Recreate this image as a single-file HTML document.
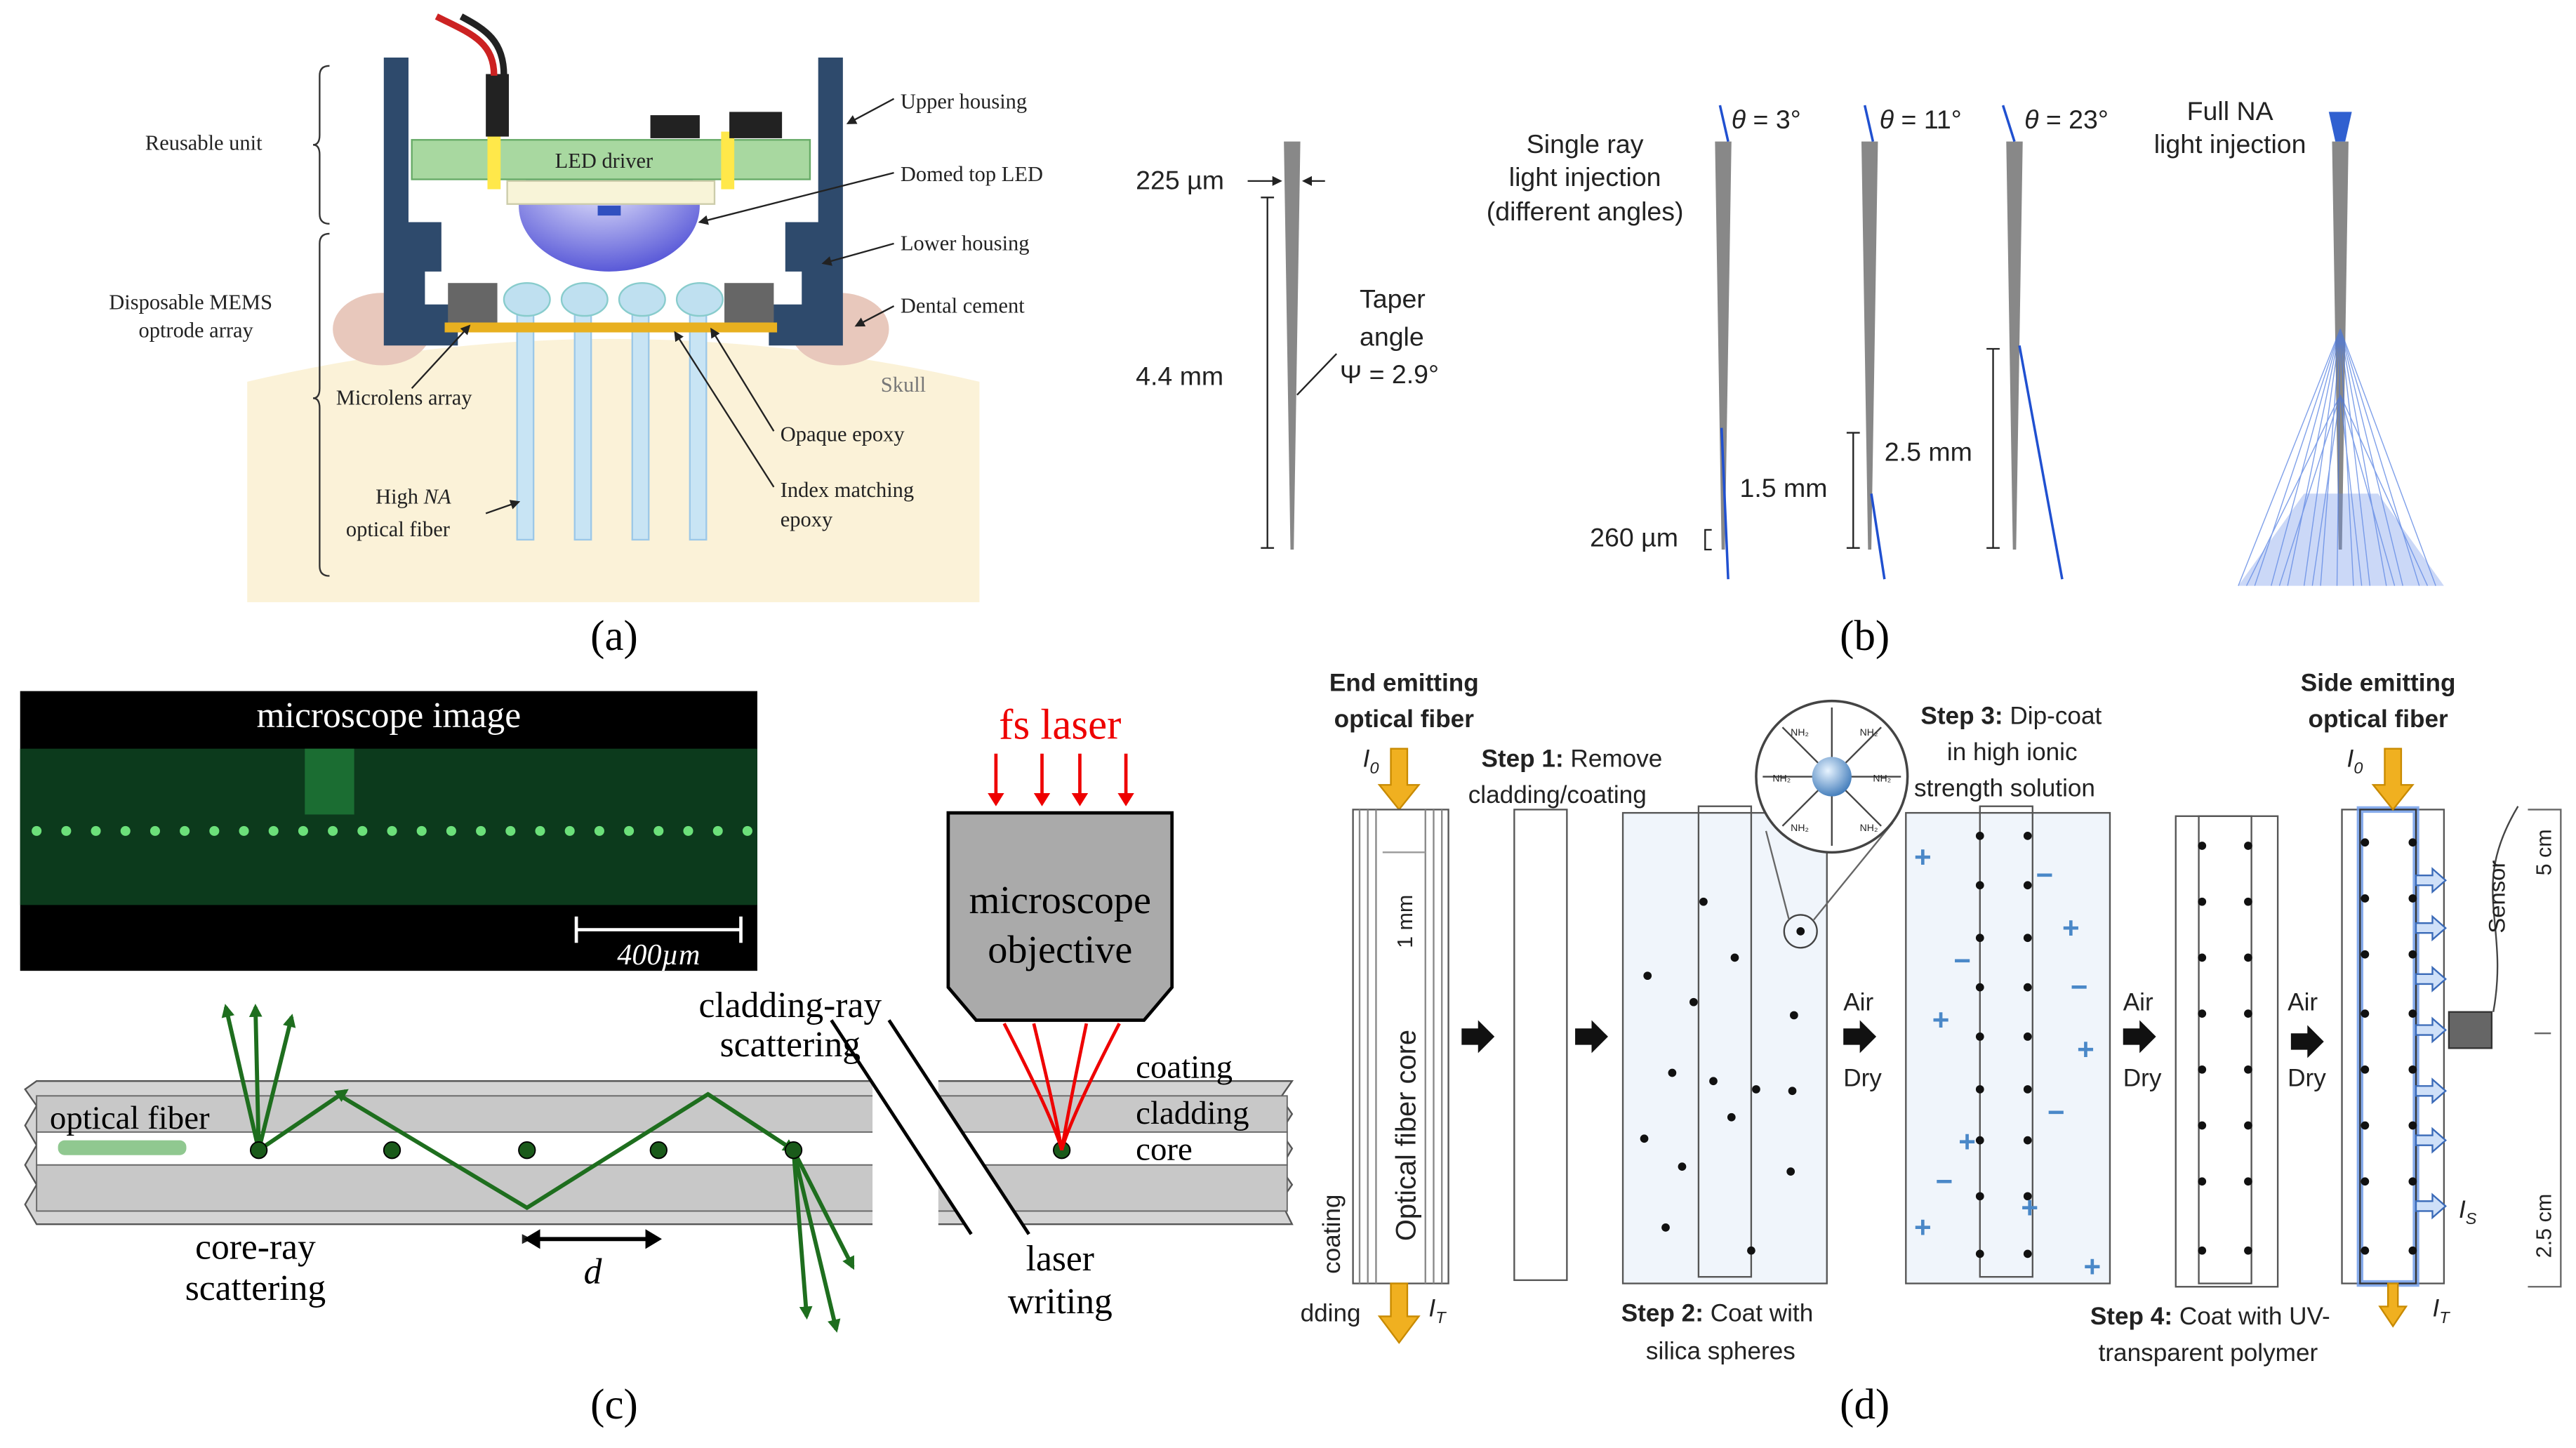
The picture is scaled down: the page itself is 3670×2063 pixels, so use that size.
<!DOCTYPE html>
<html><head><meta charset="utf-8"><style>html,body{margin:0;padding:0;background:#fff}svg{display:block}</style></head><body>
<svg width="3670" height="2063" viewBox="0 0 1565 880" xmlns="http://www.w3.org/2000/svg" font-family="Liberation Sans, sans-serif">
<rect width="1565" height="880" fill="#fff"/>
<defs>
<marker id="ag" markerWidth="8" markerHeight="8" refX="6" refY="4" orient="auto" markerUnits="userSpaceOnUse"><path d="M0,0 L8,4 L0,8 z" fill="#1e6e1e"/></marker>
<marker id="ar" markerWidth="8" markerHeight="10" refX="6" refY="5" orient="auto" markerUnits="userSpaceOnUse"><path d="M0,0 L8,5 L0,10 z" fill="#e00"/></marker>
<marker id="ak" markerWidth="6" markerHeight="6" refX="5" refY="3" orient="auto" markerUnits="userSpaceOnUse"><path d="M0,0 L6,3 L0,6 z" fill="#222"/></marker>
<radialGradient id="dome" cx="0.45" cy="0.3" r="0.7"><stop offset="0" stop-color="#f0f0ff"/><stop offset="1" stop-color="#5a5ad8"/></radialGradient>
<radialGradient id="sph" cx="0.4" cy="0.35" r="0.7"><stop offset="0" stop-color="#e8f4ff"/><stop offset="1" stop-color="#3c78b8"/></radialGradient>
</defs>

<!-- ===== Panel (a) ===== -->
<g font-family="Liberation Serif, serif" font-size="13" fill="#222">
<rect x="150" y="10" width="445" height="356" fill="#fff"/>
<path d="M150,232 Q370,180 595,232 L595,366 L150,366 Z" fill="#fbf2d8"/>
<ellipse cx="232" cy="200" rx="30" ry="22" fill="#e8c8bc"/>
<ellipse cx="510" cy="200" rx="30" ry="22" fill="#e8c8bc"/>
<g fill="#c8e4f4" stroke="#9cc8e8"><rect x="314" y="180" width="10" height="148"/><rect x="349" y="180" width="10" height="148"/><rect x="384" y="180" width="10" height="148"/><rect x="419" y="180" width="10" height="148"/></g>
<path d="M233,35 h15 v100 h20 v30 h-10 v20 h20 v25 h-45 z" fill="#2e4a6c"/>
<path d="M512,35 h-15 v100 h-20 v30 h10 v20 h-20 v25 h45 z" fill="#2e4a6c"/>
<rect x="272" y="172" width="30" height="24" fill="#666"/>
<rect x="440" y="172" width="30" height="24" fill="#666"/>
<rect x="270" y="196" width="202" height="6" fill="#e8b020"/>
<ellipse cx="370" cy="125" rx="55" ry="40" fill="url(#dome)"/>
<rect x="308" y="110" width="126" height="14" fill="#f8f4d8" stroke="#cca"/>
<rect x="250" y="85" width="242" height="24" fill="#a8d8a0" stroke="#6a6"/>
<rect x="296" y="80" width="8" height="35" fill="#ffe84a"/><rect x="438" y="80" width="8" height="35" fill="#ffe84a"/>
<rect x="395" y="70" width="30" height="14" fill="#222"/><rect x="443" y="68" width="32" height="16" fill="#222"/>
<rect x="295" y="45" width="14" height="38" fill="#222"/>
<path d="M300,46 C300,25 285,20 265,10" stroke="#c22" stroke-width="4" fill="none"/>
<path d="M306,46 C306,25 295,18 280,10" stroke="#222" stroke-width="4" fill="none"/>
<g fill="#bfe0f0" stroke="#8cc"><ellipse cx="320" cy="182" rx="14" ry="10"/><ellipse cx="355" cy="182" rx="14" ry="10"/><ellipse cx="390" cy="182" rx="14" ry="10"/><ellipse cx="425" cy="182" rx="14" ry="10"/></g>
<rect x="363" y="125" width="14" height="6" fill="#3050c0"/>
<text x="337" y="102" font-size="13">LED driver</text>
<path d="M200,40 q-6,0 -6,6 v36 q0,6 -4,6 q4,0 4,6 v36 q0,6 6,6" fill="none" stroke="#333"/>
<path d="M200,142 q-6,0 -6,6 v88 q0,6 -4,6 q4,0 4,6 v96 q0,6 6,6" fill="none" stroke="#333"/>
<text x="88" y="91">Reusable unit</text>
<text x="66" y="188">Disposable MEMS</text>
<text x="84" y="205">optrode array</text>
<text x="547" y="66">Upper housing</text>
<text x="547" y="110">Domed top LED</text>
<text x="547" y="152">Lower housing</text>
<text x="547" y="190">Dental cement</text>
<text x="535" y="238" fill="#777">Skull</text>
<text x="204" y="246">Microlens array</text>
<text x="474" y="268">Opaque epoxy</text>
<text x="474" y="302">Index matching</text>
<text x="474" y="320">epoxy</text>
<text x="228" y="306">High <tspan font-style="italic">NA</tspan></text>
<text x="210" y="326">optical fiber</text>
<g stroke="#222" fill="none" marker-end="url(#ak)">
<line x1="543" y1="60" x2="515" y2="75"/><line x1="543" y1="105" x2="425" y2="135"/><line x1="543" y1="148" x2="500" y2="160"/><line x1="543" y1="186" x2="520" y2="198"/>
<line x1="250" y1="236" x2="285" y2="198"/><line x1="470" y1="262" x2="432" y2="200"/><line x1="470" y1="296" x2="410" y2="202"/><line x1="295" y1="312" x2="315" y2="305"/>
</g>
</g>
<text x="373" y="395" font-family="Liberation Serif, serif" font-size="26" text-anchor="middle">(a)</text>

<!-- ===== Panel (b) ===== -->
<g font-size="16" fill="#222">
<path d="M780,86 h10 l-4,248 h-2 z" fill="#888"/>
<text x="690" y="115">225 µm</text>
<line x1="758" y1="110" x2="778" y2="110" stroke="#222" marker-end="url(#ak)"/><line x1="805" y1="110" x2="792" y2="110" stroke="#222" marker-end="url(#ak)"/>
<line x1="770" y1="120" x2="770" y2="333" stroke="#222"/><line x1="766" y1="120" x2="774" y2="120" stroke="#222"/><line x1="766" y1="333" x2="774" y2="333" stroke="#222"/>
<text x="690" y="234">4.4 mm</text>
<text x="826" y="187">Taper</text><text x="826" y="210">angle</text><text x="814" y="233">Ψ = 2.9°</text>
<line x1="812" y1="215" x2="788" y2="240" stroke="#222"/>
<text x="963" y="93" text-anchor="middle">Single ray</text>
<text x="963" y="113" text-anchor="middle">light injection</text>
<text x="963" y="114" dy="20" text-anchor="middle">(different angles)</text>
<g fill="#888"><path d="M1042,86 h10 l-4,248 h-2 z"/><path d="M1131,86 h10 l-4,248 h-2 z"/><path d="M1219,86 h10 l-4,248 h-2 z"/><path d="M1417,86 h10 l-4,248 h-2 z"/></g>
<g stroke="#2050d0" stroke-width="1.5"><line x1="1045" y1="64" x2="1050" y2="86"/><line x1="1046" y1="260" x2="1050" y2="352"/><line x1="1133" y1="64" x2="1138" y2="86"/><line x1="1137" y1="300" x2="1145" y2="352"/><line x1="1217" y1="64" x2="1224" y2="86"/><line x1="1227" y1="210" x2="1253" y2="352"/></g>
<text x="1052" y="78"><tspan font-style="italic">θ</tspan> = 3°</text>
<text x="1142" y="78"><tspan font-style="italic">θ</tspan> = 11°</text>
<text x="1230" y="78"><tspan font-style="italic">θ</tspan> = 23°</text>
<text x="966" y="332">260 µm</text>
<path d="M1040,322 h-4 v12 h4" fill="none" stroke="#222"/>
<text x="1057" y="302">1.5 mm</text>
<path d="M1122,263 h8 M1126,263 v70 M1122,333 h8" stroke="#222" fill="none"/>
<text x="1145" y="280">2.5 mm</text>
<path d="M1207,212 h8 M1211,212 v121 M1207,333 h8" stroke="#222" fill="none"/>
<text x="1355" y="73" text-anchor="middle">Full  NA</text>
<text x="1355" y="93" text-anchor="middle">light injection</text>
<path d="M1415,68 h14 l-4,18 h-6 z" fill="#3060d0"/>
<g stroke="#4a78e0" stroke-width="0.6" opacity="0.7">
<line x1="1422" y1="200" x2="1360" y2="356"/><line x1="1422" y1="200" x2="1370" y2="356"/><line x1="1422" y1="200" x2="1380" y2="356"/><line x1="1422" y1="200" x2="1390" y2="356"/><line x1="1422" y1="200" x2="1400" y2="356"/><line x1="1422" y1="200" x2="1410" y2="356"/><line x1="1422" y1="200" x2="1420" y2="356"/><line x1="1422" y1="200" x2="1430" y2="356"/><line x1="1422" y1="200" x2="1440" y2="356"/><line x1="1422" y1="200" x2="1450" y2="356"/><line x1="1422" y1="200" x2="1460" y2="356"/><line x1="1422" y1="200" x2="1470" y2="356"/><line x1="1422" y1="200" x2="1480" y2="356"/>
<line x1="1422" y1="240" x2="1365" y2="356"/><line x1="1422" y1="240" x2="1385" y2="356"/><line x1="1422" y1="240" x2="1405" y2="356"/><line x1="1422" y1="240" x2="1435" y2="356"/><line x1="1422" y1="240" x2="1455" y2="356"/><line x1="1422" y1="240" x2="1475" y2="356"/>
</g>
<path d="M1400,300 L1360,356 L1485,356 L1445,300 Z" fill="#6a90e8" opacity="0.35"/>
</g>
<text x="1133" y="395" font-family="Liberation Serif, serif" font-size="26" text-anchor="middle">(b)</text>

<!-- ===== Panel (c) ===== -->
<g font-family="Liberation Serif, serif">
<rect x="12" y="420" width="448" height="170" fill="#000"/>
<rect x="12" y="455" width="448" height="95" fill="#0c3a1c"/>
<rect x="185" y="455" width="30" height="40" fill="#1f7a38" opacity="0.8"/>
<g fill="#6ce07a">
<circle cx="22" cy="505" r="3"/><circle cx="40" cy="505" r="3"/><circle cx="58" cy="505" r="3"/><circle cx="76" cy="505" r="3"/><circle cx="94" cy="505" r="3"/><circle cx="112" cy="505" r="3"/><circle cx="130" cy="505" r="3"/><circle cx="148" cy="505" r="3"/><circle cx="166" cy="505" r="3"/><circle cx="184" cy="505" r="3"/><circle cx="202" cy="505" r="3"/><circle cx="220" cy="505" r="3"/><circle cx="238" cy="505" r="3"/><circle cx="256" cy="505" r="3"/><circle cx="274" cy="505" r="3"/><circle cx="292" cy="505" r="3"/><circle cx="310" cy="505" r="3"/><circle cx="328" cy="505" r="3"/><circle cx="346" cy="505" r="3"/><circle cx="364" cy="505" r="3"/><circle cx="382" cy="505" r="3"/><circle cx="400" cy="505" r="3"/><circle cx="418" cy="505" r="3"/><circle cx="436" cy="505" r="3"/><circle cx="454" cy="505" r="3"/>
</g>
<text x="236" y="442" fill="#fff" font-size="22" text-anchor="middle">microscope image</text>
<line x1="350" y1="565" x2="450" y2="565" stroke="#fff" stroke-width="2"/><line x1="350" y1="557" x2="350" y2="573" stroke="#fff" stroke-width="2"/><line x1="450" y1="557" x2="450" y2="573" stroke="#fff" stroke-width="2"/>
<text x="400" y="586" fill="#fff" font-size="18" text-anchor="middle" font-style="italic">400µm</text>
<!-- fiber -->
<path d="M22,657 L785,657 L778,667 L785,677 L778,688 L785,698 L778,710 L785,720 L778,730 L785,744 L22,744 L15,732 L22,720 L15,708 L22,696 L15,684 L22,672 L15,662 Z" fill="#d4d4d4" stroke="#555"/>
<rect x="22" y="666" width="760" height="22" fill="#c8c8c8" stroke="#666" stroke-width="0.8"/>
<rect x="22" y="688" width="760" height="20" fill="#fff" stroke="#666" stroke-width="0.8"/>
<rect x="22" y="708" width="760" height="28" fill="#c8c8c8" stroke="#666" stroke-width="0.8"/>
<rect x="530" y="640" width="40" height="115" fill="#fff" transform="skewX(0)"/>
<line x1="505" y1="620" x2="590" y2="750" stroke="#000" stroke-width="2"/>
<line x1="540" y1="620" x2="625" y2="750" stroke="#000" stroke-width="2"/>
<path d="M505,620 L540,620 L625,750 L590,750 Z" fill="#fff"/>
<line x1="505" y1="620" x2="590" y2="750" stroke="#000" stroke-width="2"/>
<line x1="540" y1="620" x2="625" y2="750" stroke="#000" stroke-width="2"/>
<rect x="35" y="693" width="78" height="9" rx="4" fill="#90c890"/>
<g stroke="#1e6e1e" stroke-width="2.5" fill="none">
<polyline points="157,699 210,663" marker-end="url(#ag)"/>
<polyline points="205,665 320,734 430,665 482,699"/>
<line x1="157" y1="699" x2="137" y2="612" marker-end="url(#ag)"/><line x1="157" y1="699" x2="155" y2="612" marker-end="url(#ag)"/><line x1="157" y1="699" x2="177" y2="618" marker-end="url(#ag)"/>
<line x1="482" y1="699" x2="490" y2="800" marker-end="url(#ag)"/><line x1="482" y1="699" x2="508" y2="808" marker-end="url(#ag)"/><line x1="482" y1="699" x2="518" y2="770" marker-end="url(#ag)"/>
</g>
<line x1="430" y1="665" x2="482" y2="699" stroke="#1e6e1e" stroke-width="2.5" marker-end="url(#ag)"/>
<g fill="#1a5a1a" stroke="#000" stroke-width="0.8"><circle cx="157" cy="699" r="5"/><circle cx="238" cy="699" r="5"/><circle cx="320" cy="699" r="5"/><circle cx="400" cy="699" r="5"/><circle cx="482" cy="699" r="5"/><circle cx="645" cy="699" r="5"/></g>
<text x="30" y="686" font-size="20">optical fiber</text>
<text x="690" y="655" font-size="20">coating</text>
<text x="690" y="683" font-size="20">cladding</text>
<text x="690" y="705" font-size="20">core</text>
<text x="155" y="765" font-size="22" text-anchor="middle">core-ray</text>
<text x="155" y="790" font-size="22" text-anchor="middle">scattering</text>
<line x1="322" y1="753" x2="398" y2="753" stroke="#000" stroke-width="2.5" marker-end="url(#ak)" marker-start="url(#ak)"/>
<path d="M318,753 l10,-6 v12 z M402,753 l-10,-6 v12 z" fill="#000"/>
<text x="360" y="780" font-size="22" font-style="italic" text-anchor="middle">d</text>
<text x="480" y="618" font-size="22" text-anchor="middle">cladding-ray</text>
<text x="480" y="642" font-size="22" text-anchor="middle">scattering</text>
<text x="644" y="772" font-size="22" text-anchor="middle">laser</text>
<text x="644" y="798" font-size="22" text-anchor="middle">writing</text>
<text x="644" y="449" font-size="26" fill="#e00" text-anchor="middle">fs laser</text>
<g stroke="#e00" stroke-width="2"><line x1="605" y1="458" x2="605" y2="488" marker-end="url(#ar)"/><line x1="633" y1="458" x2="633" y2="488" marker-end="url(#ar)"/><line x1="656" y1="458" x2="656" y2="488" marker-end="url(#ar)"/><line x1="684" y1="458" x2="684" y2="488" marker-end="url(#ar)"/></g>
<path d="M576,494 L712,494 L712,600 L695,620 L593,620 L576,600 Z" fill="#aaa" stroke="#000" stroke-width="2"/>
<text x="644" y="555" font-size="24" text-anchor="middle">microscope</text>
<text x="644" y="585" font-size="24" text-anchor="middle">objective</text>
<g stroke="#e00" stroke-width="2" fill="none"><path d="M610,622 Q640,680 645,699"/><path d="M628,622 Q642,680 645,699"/><path d="M660,622 Q648,680 645,699"/><path d="M680,622 Q650,680 645,699"/></g>
</g>
<text x="373" y="862" font-family="Liberation Serif, serif" font-size="26" text-anchor="middle">(c)</text>

<!-- ===== Panel (d) ===== -->
<g font-size="15" fill="#222" font-family="Liberation Sans, sans-serif">
<text x="853" y="420" font-weight="bold" text-anchor="middle">End emitting</text>
<text x="853" y="442" font-weight="bold" text-anchor="middle">optical fiber</text>
<text x="828" y="466" font-style="italic">I<tspan font-size="10" dy="4">0</tspan></text>
<path d="M845,455 h10 v22 h7 l-12,15 l-12,-15 h7 z" fill="#f0b020" stroke="#c88a00"/>
<rect x="822" y="492" width="58" height="288" fill="#fff" stroke="#555"/>
<g stroke="#888" fill="none"><line x1="826" y1="492" x2="826" y2="780"/><line x1="831" y1="492" x2="831" y2="780"/><line x1="836" y1="492" x2="836" y2="780"/><line x1="866" y1="492" x2="866" y2="780"/><line x1="871" y1="492" x2="871" y2="780"/><line x1="876" y1="492" x2="876" y2="780"/></g>
<line x1="840" y1="518" x2="866" y2="518" stroke="#999"/>
<text transform="translate(858,560) rotate(-90)" font-size="13" text-anchor="middle">1 mm</text>
<text transform="translate(860,690) rotate(-90)" font-size="17" text-anchor="middle">Optical fiber core</text>
<text transform="translate(814,750) rotate(-90)" font-size="15" text-anchor="middle">coating</text>
<text x="790" y="803">dding</text>
<path d="M845,780 h10 v20 h7 l-12,16 l-12,-16 h7 z" fill="#f0b020" stroke="#c88a00"/>
<text x="868" y="800" font-style="italic">I<tspan font-size="10" dy="4">T</tspan></text>
<path d="M888,625 h10 v-5 l10,10 l-10,10 v-5 h-10 z" fill="#111"/>
<text x="900" y="466"><tspan font-weight="bold">Step 1:</tspan> Remove</text>
<text x="892" y="488">cladding/coating</text>
<rect x="920" y="492" width="32" height="286" fill="#fff" stroke="#555"/>
<path d="M957,625 h10 v-5 l10,10 l-10,10 v-5 h-10 z" fill="#111"/>
<rect x="986" y="494" width="124" height="286" fill="#f0f5fb" stroke="#555"/>
<rect x="1032" y="490" width="32" height="286" fill="none" stroke="#555"/>
<g fill="#111"><circle cx="1035" cy="548" r="2.5"/><circle cx="1054" cy="582" r="2.5"/><circle cx="1001" cy="593" r="2.5"/><circle cx="1029" cy="609" r="2.5"/><circle cx="1090" cy="617" r="2.5"/><circle cx="1016" cy="652" r="2.5"/><circle cx="1041" cy="657" r="2.5"/><circle cx="1067" cy="662" r="2.5"/><circle cx="1089" cy="663" r="2.5"/><circle cx="1052" cy="679" r="2.5"/><circle cx="999" cy="692" r="2.5"/><circle cx="1022" cy="709" r="2.5"/><circle cx="1088" cy="712" r="2.5"/><circle cx="1012" cy="746" r="2.5"/><circle cx="1064" cy="760" r="2.5"/><circle cx="1094" cy="566" r="2.5"/></g>
<circle cx="1094" cy="566" r="10" fill="none" stroke="#444"/>
<line x1="1087" y1="559" x2="1073" y2="505" stroke="#666"/><line x1="1102" y1="559" x2="1150" y2="500" stroke="#666"/>
<circle cx="1113" cy="472" r="46" fill="#fff" stroke="#444" stroke-width="1.5"/>
<g stroke="#444"><line x1="1113" y1="472" x2="1113" y2="430"/><line x1="1113" y1="472" x2="1113" y2="514"/><line x1="1113" y1="472" x2="1071" y2="472"/><line x1="1113" y1="472" x2="1155" y2="472"/><line x1="1113" y1="472" x2="1083" y2="442"/><line x1="1113" y1="472" x2="1143" y2="442"/><line x1="1113" y1="472" x2="1083" y2="502"/><line x1="1113" y1="472" x2="1143" y2="502"/></g>
<circle cx="1113" cy="472" r="12" fill="url(#sph)"/>
<g font-size="6" fill="#222"><text x="1077" y="475">NH₂</text><text x="1138" y="475">NH₂</text><text x="1088" y="447">NH₂</text><text x="1130" y="447">NH₂</text><text x="1088" y="505">NH₂</text><text x="1130" y="505">NH₂</text></g>
<text x="985" y="803"><tspan font-weight="bold">Step 2:</tspan> Coat with</text>
<text x="1000" y="826">silica spheres</text>
<text x="1120" y="614">Air</text><text x="1120" y="660">Dry</text>
<path d="M1120,625 h10 v-5 l10,10 l-10,10 v-5 h-10 z" fill="#111"/>
<text x="1167" y="440"><tspan font-weight="bold">Step 3:</tspan> Dip-coat</text>
<text x="1183" y="462">in high ionic</text>
<text x="1163" y="484">strength solution</text>
<rect x="1158" y="494" width="124" height="286" fill="#f0f5fb" stroke="#555"/>
<rect x="1203" y="490" width="32" height="286" fill="none" stroke="#555"/>
<g fill="#111"><circle cx="1203" cy="508" r="2.5"/><circle cx="1203" cy="538" r="2.5"/><circle cx="1203" cy="570" r="2.5"/><circle cx="1203" cy="600" r="2.5"/><circle cx="1203" cy="630" r="2.5"/><circle cx="1203" cy="662" r="2.5"/><circle cx="1203" cy="693" r="2.5"/><circle cx="1203" cy="727" r="2.5"/><circle cx="1203" cy="762" r="2.5"/><circle cx="1232" cy="508" r="2.5"/><circle cx="1232" cy="538" r="2.5"/><circle cx="1232" cy="570" r="2.5"/><circle cx="1232" cy="600" r="2.5"/><circle cx="1232" cy="630" r="2.5"/><circle cx="1232" cy="662" r="2.5"/><circle cx="1232" cy="693" r="2.5"/><circle cx="1232" cy="727" r="2.5"/><circle cx="1232" cy="762" r="2.5"/></g>
<g fill="#4a88c8" font-weight="bold" font-size="18"><text x="1163" y="527">+</text><text x="1253" y="570">+</text><text x="1174" y="626">+</text><text x="1262" y="644">+</text><text x="1190" y="700">+</text><text x="1163" y="752">+</text><text x="1266" y="776">+</text><text x="1228" y="740">+</text><text x="1237" y="538">−</text><text x="1187" y="590">−</text><text x="1258" y="606">−</text><text x="1244" y="682">−</text><text x="1176" y="724">−</text></g>
<text x="1290" y="614">Air</text><text x="1290" y="660">Dry</text>
<path d="M1290,625 h10 v-5 l10,10 l-10,10 v-5 h-10 z" fill="#111"/>
<rect x="1322" y="496" width="62" height="286" fill="#fff" stroke="#555"/>
<rect x="1336" y="496" width="32" height="284" fill="none" stroke="#555"/>
<g fill="#111"><circle cx="1338" cy="514" r="2.5"/><circle cx="1338" cy="548" r="2.5"/><circle cx="1338" cy="582" r="2.5"/><circle cx="1338" cy="616" r="2.5"/><circle cx="1338" cy="650" r="2.5"/><circle cx="1338" cy="684" r="2.5"/><circle cx="1338" cy="718" r="2.5"/><circle cx="1338" cy="760" r="2.5"/><circle cx="1366" cy="514" r="2.5"/><circle cx="1366" cy="548" r="2.5"/><circle cx="1366" cy="582" r="2.5"/><circle cx="1366" cy="616" r="2.5"/><circle cx="1366" cy="650" r="2.5"/><circle cx="1366" cy="684" r="2.5"/><circle cx="1366" cy="718" r="2.5"/><circle cx="1366" cy="760" r="2.5"/></g>
<text x="1270" y="805"><tspan font-weight="bold">Step 4:</tspan> Coat with UV-</text>
<text x="1275" y="827">transparent polymer</text>
<text x="1390" y="614">Air</text><text x="1390" y="660">Dry</text>
<path d="M1392,628 h10 v-5 l10,10 l-10,10 v-5 h-10 z" fill="#111"/>
<text x="1445" y="420" font-weight="bold" text-anchor="middle">Side emitting</text>
<text x="1445" y="442" font-weight="bold" text-anchor="middle">optical fiber</text>
<text x="1426" y="466" font-style="italic">I<tspan font-size="10" dy="4">0</tspan></text>
<rect x="1423" y="492" width="62" height="288" fill="#fff" stroke="#555"/>
<rect x="1434" y="492" width="34" height="288" fill="#fff" stroke="#6a98e8" stroke-width="4" opacity="0.8"/>
<rect x="1434" y="492" width="34" height="288" fill="none" stroke="#333"/>
<path d="M1449,455 h10 v22 h7 l-12,15 l-12,-15 h7 z" fill="#f0b020" stroke="#c88a00"/>
<g fill="#111"><circle cx="1437" cy="512" r="2.5"/><circle cx="1437" cy="546" r="2.5"/><circle cx="1437" cy="580" r="2.5"/><circle cx="1437" cy="616" r="2.5"/><circle cx="1437" cy="650" r="2.5"/><circle cx="1437" cy="684" r="2.5"/><circle cx="1437" cy="718" r="2.5"/><circle cx="1437" cy="760" r="2.5"/><circle cx="1466" cy="512" r="2.5"/><circle cx="1466" cy="546" r="2.5"/><circle cx="1466" cy="580" r="2.5"/><circle cx="1466" cy="616" r="2.5"/><circle cx="1466" cy="650" r="2.5"/><circle cx="1466" cy="684" r="2.5"/><circle cx="1466" cy="718" r="2.5"/><circle cx="1466" cy="760" r="2.5"/></g>
<g fill="#cfe0f8" stroke="#3a6ab8"><path d="M1468,561 h10 v-4 l8,7 l-8,7 v-4 h-10 z"/><path d="M1468,592 h10 v-4 l8,7 l-8,7 v-4 h-10 z"/><path d="M1468,623 h10 v-4 l8,7 l-8,7 v-4 h-10 z"/><path d="M1468,660 h10 v-4 l8,7 l-8,7 v-4 h-10 z"/><path d="M1468,690 h10 v-4 l8,7 l-8,7 v-4 h-10 z"/><path d="M1468,730 h10 v-4 l8,7 l-8,7 v-4 h-10 z"/><path d="M1468,532 h10 v-4 l8,7 l-8,7 v-4 h-10 z"/></g>
<text x="1494" y="740" font-style="italic">I<tspan font-size="10" dy="4">S</tspan></text>
<path d="M1451,780 h6 v14 h5 l-8,12 l-8,-12 h5 z" fill="#f0b020" stroke="#c88a00"/>
<text x="1478" y="800" font-style="italic">I<tspan font-size="10" dy="4">T</tspan></text>
<rect x="1488" y="615" width="26" height="22" fill="#666" stroke="#333"/>
<path d="M1515,615 C1525,560 1500,540 1530,490" fill="none" stroke="#444"/>
<text transform="translate(1522,545) rotate(-90)" font-size="14" text-anchor="middle">Sensor</text>
<path d="M1536,492 h20 v290 h-20" fill="none" stroke="#666"/>
<path d="M1540,628 h10" stroke="#666"/>
<text transform="translate(1550,518) rotate(-90)" font-size="13" text-anchor="middle">5 cm</text>
<text transform="translate(1550,745) rotate(-90)" font-size="13" text-anchor="middle">2.5 cm</text>
</g>
<text x="1133" y="862" font-family="Liberation Serif, serif" font-size="26" text-anchor="middle">(d)</text>
</svg>
</body></html>
